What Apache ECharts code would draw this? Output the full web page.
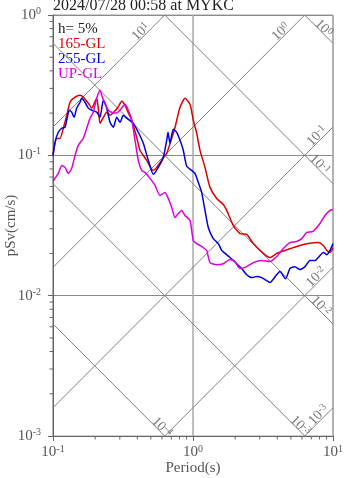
<!DOCTYPE html>
<html><head><meta charset="utf-8">
<script src="https://cdn.jsdelivr.net/npm/echarts@6/dist/echarts.min.js"></script>
<style>html,body{margin:0;padding:0;background:#fff}#c{width:347px;height:478px}</style>
</head><body><div id="c"></div>
<script>
// ---------- data ----------
const chartTitle = '2024/07/28 00:58 at MYKC';
const dampingText = 'h= 5%';
const seriesNames = ['165-GL', '255-GL', 'UP-GL'];
const seriesColors = ['#dd0000', '#0000dd', '#dd00dd'];

const periods165 = [0.1,0.1063,0.1122,0.1185,0.1253,0.1323,0.1396,0.156,0.1646,0.1787,0.189,0.2052,0.2106,0.2166,0.2276,0.2418,0.2554,0.2683,0.2912,0.3095,0.3268,0.3434,0.365,0.3963,0.418,0.4669,0.518,0.5505,0.6105,0.6489,0.7046,0.7438,0.8076,0.877,0.952,1.005,1.063,1.122,1.218,1.323,1.476,1.646,1.741,1.941,2.166,2.418,2.697,3.178,3.548,3.962,4.54,5.2,5.81,6.66,7.85,8.53,9.02,9.52,10];
const sv165 = [0.1,0.132,0.132,0.156,0.193,0.239,0.255,0.268,0.26,0.235,0.217,0.255,0.217,0.169,0.184,0.203,0.193,0.2,0.22,0.243,0.228,0.203,0.178,0.134,0.1086,0.0921,0.0781,0.0821,0.0952,0.1033,0.1322,0.158,0.22,0.255,0.231,0.178,0.1436,0.1086,0.0821,0.0591,0.0493,0.0447,0.0405,0.0316,0.0277,0.0273,0.0235,0.02,0.0187,0.02,0.021,0.022,0.0228,0.0235,0.0239,0.0228,0.021,0.0203,0.022];

const periods255 = [0.1,0.1033,0.1091,0.1154,0.1218,0.1253,0.1307,0.136,0.1413,0.1477,0.156,0.1603,0.1692,0.1787,0.189,0.2052,0.2166,0.2287,0.2418,0.2554,0.2696,0.2851,0.301,0.318,0.3361,0.3746,0.4067,0.4416,0.4795,0.5205,0.5652,0.6136,0.6489,0.663,0.685,0.7229,0.7649,0.8076,0.8524,0.9016,0.9788,1.0335,1.091,1.153,1.218,1.286,1.396,1.516,1.603,1.693,1.838,2.052,2.228,2.418,2.626,2.851,3.096,3.361,3.548,3.917,4.18,4.58,4.93,5.35,5.81,6.31,6.85,7.44,7.85,8.53,9.06,9.52,10];
const sv255 = [0.1,0.1238,0.146,0.156,0.1585,0.178,0.2097,0.203,0.1868,0.217,0.239,0.255,0.239,0.217,0.2097,0.203,0.1868,0.247,0.217,0.172,0.1585,0.1868,0.172,0.193,0.184,0.169,0.146,0.1218,0.0921,0.0732,0.0821,0.0968,0.128,0.146,0.1218,0.1534,0.146,0.128,0.1086,0.0835,0.0781,0.0743,0.0641,0.0544,0.0405,0.0306,0.0255,0.0235,0.021,0.02,0.0187,0.0169,0.0156,0.0141,0.01345,0.01367,0.01345,0.0128,0.0124,0.0139,0.01484,0.0132,0.0156,0.0161,0.01534,0.0161,0.0178,0.0178,0.0187,0.0203,0.0196,0.021,0.0235];

const periodsUP = [0.1,0.1033,0.1091,0.1154,0.1218,0.1286,0.136,0.1436,0.1516,0.1646,0.1741,0.1838,0.194,0.2052,0.2166,0.2265,0.2352,0.2483,0.2625,0.2851,0.301,0.3268,0.345,0.365,0.3853,0.4067,0.43,0.454,0.493,0.5355,0.581,0.631,0.6662,0.7046,0.7438,0.7852,0.83,0.877,0.952,1.005,1.063,1.122,1.185,1.253,1.323,1.476,1.646,1.838,1.995,2.166,2.418,2.697,3.096,3.548,3.962,4.42,4.93,5.5,5.98,6.49,7.2,8.07,8.77,9.52,10];
const svUP = [0.0652,0.0685,0.0743,0.0848,0.0821,0.0743,0.0808,0.1,0.1179,0.1322,0.156,0.1837,0.203,0.255,0.291,0.255,0.235,0.2097,0.203,0.2,0.2097,0.231,0.2097,0.178,0.128,0.0921,0.0781,0.0756,0.0685,0.061,0.0518,0.0544,0.0493,0.0425,0.0361,0.0385,0.0405,0.0373,0.0343,0.0247,0.0235,0.0228,0.022,0.021,0.0172,0.0166,0.0169,0.0181,0.0175,0.0156,0.0161,0.0172,0.0178,0.0175,0.019,0.0217,0.0239,0.0243,0.0255,0.0282,0.0287,0.0327,0.0373,0.0405,0.0411];

// axis range / tick values
const xMin = 0.1, xMax = 10;
const yMin = 0.001, yMax = 1;
const minorMultipliers = [2,3,4,5,6,7,8,9];

// tripartite guide levels: displacement SD (cm), acceleration SA (cm/s^2)
const sdLevels = [1e-4, 1e-3, 1e-2, 1e-1, 1];
const sdLabelPeriods = [0.544, 5.31, 7.44, 7.31, 7.81];
const saLevels = [1e-3, 1e-2, 1e-1, 1, 10];
const saLabelPeriods = [8.88, 8.54, 8.63, 4.77, 0.477];

// ---------- build ----------
const FONT = '"Liberation Serif","DejaVu Serif",serif';
const TWO_PI = 2 * Math.PI;
const L = Math.log10;

function expOf(v) { return Math.round(L(v)); }
function supText(v) { return '{b|10}{s|' + expOf(v) + '}'; }

const lx0 = L(xMin), lx1 = L(xMax), ly0 = L(yMin), ly1 = L(yMax);
function sdLine(sd) {
  const c = L(TWO_PI * sd);            // log Sv = c - log T
  const u0 = Math.max(lx0, c - ly1), u1 = Math.min(lx1, c - ly0);
  return [[Math.pow(10, u0), Math.pow(10, c - u0)], [Math.pow(10, u1), Math.pow(10, c - u1)]];
}
function saLine(sa) {
  const d = L(sa / TWO_PI);            // log Sv = log T + d
  const u0 = Math.max(lx0, ly0 - d), u1 = Math.min(lx1, ly1 - d);
  return [[Math.pow(10, u0), Math.pow(10, u0 + d)], [Math.pow(10, u1), Math.pow(10, u1 + d)]];
}

const guideSeries = [];
sdLevels.forEach(sd => guideSeries.push({type:'line', data: sdLine(sd), showSymbol:false, silent:true, z:1,
  lineStyle:{color:'#808080', width:1}, animation:false}));
saLevels.forEach(sa => guideSeries.push({type:'line', data: saLine(sa), showSymbol:false, silent:true, z:1,
  lineStyle:{color:'#808080', width:1}, animation:false}));

const guideRich = {
  b:{fontSize:14, fontFamily:FONT, color:'#555', lineHeight:15},
  s:{fontSize:10, fontFamily:FONT, color:'#555', lineHeight:10, verticalAlign:'top'}
};
const labelData = [];
sdLevels.forEach((sd, i) => {
  const T = sdLabelPeriods[i];
  labelData.push({value:[T, TWO_PI * sd / T], label:{show:true, position:'inside', rotate:-45, offset:[4,-4],
    formatter: supText(sd), rich: guideRich}});
});
saLevels.forEach((sa, i) => {
  const T = saLabelPeriods[i];
  labelData.push({value:[T, sa * T / TWO_PI], label:{show:true, position:'inside', rotate:45, offset:[-5,-5],
    formatter: supText(sa), rich: guideRich}});
});

const minorX = [], minorY = [];
for (let e = lx0; e < lx1; e++) minorMultipliers.forEach(m => minorX.push(m * Math.pow(10, e)));
for (let e = ly0; e < ly1; e++) minorMultipliers.forEach(m => minorY.push(m * Math.pow(10, e)));

const axisRich = {
  b:{fontSize:15, fontFamily:FONT, color:'#555', lineHeight:17},
  s:{fontSize:10, fontFamily:FONT, color:'#555', lineHeight:10, verticalAlign:'top'}
};

const curves = [[periods165, sv165], [periods255, sv255], [periodsUP, svUP]].map((p, i) => ({
  type:'line', name: seriesNames[i], data: p[0].map((t, k) => [t, p[1][k]]),
  showSymbol:false, smooth:0.2, z:3, animation:false,
  lineStyle:{color: seriesColors[i], width:1.5}
}));

const chart = echarts.init(document.getElementById('c'), null, {renderer:'canvas'});
chart.setOption({
  backgroundColor:'#fff',
  animation:false,
  grid:{left:53, top:15, width:280, height:421, containLabel:false, outerBoundsMode:'none',
    show:true, borderColor:'#a0a0a0', borderWidth:1, backgroundColor:'transparent'},
  xAxis:{type:'log', logBase:10, min:xMin, max:xMax,
    name:'Period(s)', nameLocation:'middle', nameGap:25, nameMoveOverlap:false,
    nameTextStyle:{fontSize:15, fontFamily:FONT, color:'#555'},
    axisLine:{show:true, lineStyle:{color:'#666', width:1}},
    axisTick:{show:true, length:5, lineStyle:{color:'#666'}},
    axisLabel:{formatter: v => supText(v), rich: axisRich, margin:8, showMinLabel:true, showMaxLabel:true, hideOverlap:false},
    splitLine:{show:true, lineStyle:{color:'#a8a8a8', width:1.5}}
  },
  yAxis:{type:'log', logBase:10, min:yMin, max:yMax,
    name:'pSv(cm/s)', nameLocation:'middle', nameGap:34, nameMoveOverlap:false,
    nameTextStyle:{fontSize:15, fontFamily:FONT, color:'#555'},
    axisLine:{show:true, lineStyle:{color:'#666', width:1}},
    axisTick:{show:true, length:5, lineStyle:{color:'#666'}},
    axisLabel:{formatter: v => supText(v), rich: axisRich, margin:12, hideOverlap:false},
    splitLine:{show:true, lineStyle:{color:'#8a8a8a', width:1}}
  },
  graphic:[
    {type:'text', x:53, y:6, style:{text: chartTitle, font:'16px ' + FONT, fill:'#222', verticalAlign:'middle'}},
    {type:'text', x:58, y:29, style:{text: dampingText, font:'15px ' + FONT, fill:'#222', verticalAlign:'middle'}},
    {type:'text', x:58, y:44, style:{text: seriesNames[0], font:'15px ' + FONT, fill: seriesColors[0], verticalAlign:'middle'}},
    {type:'text', x:58, y:59, style:{text: seriesNames[1], font:'15px ' + FONT, fill: seriesColors[1], verticalAlign:'middle'}},
    {type:'text', x:58, y:74, style:{text: seriesNames[2], font:'15px ' + FONT, fill: seriesColors[2], verticalAlign:'middle'}}
  ],
  series: guideSeries.concat([
    {type:'scatter', data: labelData, symbolSize:1, itemStyle:{color:'rgba(0,0,0,0)'}, silent:true, z:2, animation:false},
    {type:'custom', silent:true, clip:false, z:5, data: minorX.map(v => [v, yMin]),
      renderItem:(p, api) => { const pt = api.coord([api.value(0), api.value(1)]);
        return {type:'line', shape:{x1:pt[0], y1:pt[1], x2:pt[0], y2:pt[1] + 3.5}, style:{stroke:'#666', lineWidth:1}}; }},
    {type:'custom', silent:true, clip:false, z:5, data: minorY.map(v => [xMin, v]),
      renderItem:(p, api) => { const pt = api.coord([api.value(0), api.value(1)]);
        return {type:'line', shape:{x1:pt[0] - 3.5, y1:pt[1], x2:pt[0], y2:pt[1]}, style:{stroke:'#666', lineWidth:1}}; }}
  ]).concat(curves)
});
</script>
</body></html>
